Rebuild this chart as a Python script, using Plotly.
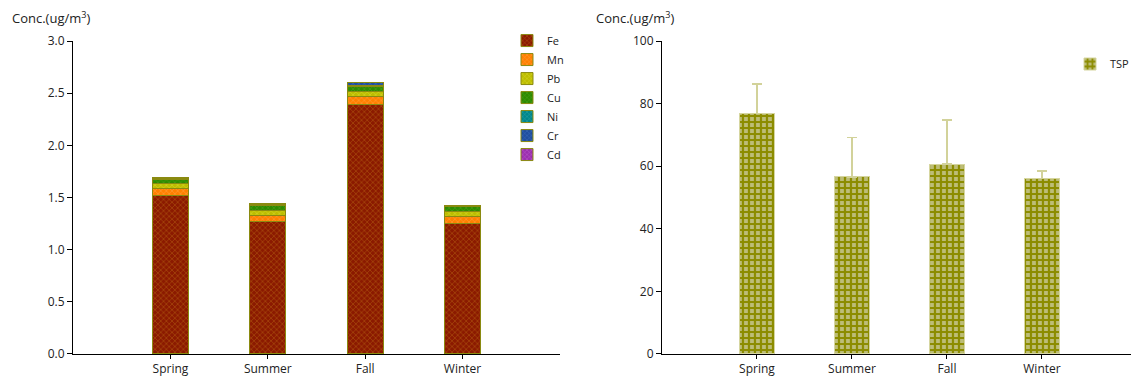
import plotly.graph_objects as go

seasons = ["Spring", "Summer", "Fall", "Winter"]

# Metal concentrations (ug/m3), stacked
metals = ["Fe", "Mn", "Pb", "Cu", "Ni", "Cr", "Cd"]
fe = [1.52, 1.27, 2.39, 1.25]
mn = [0.07, 0.06, 0.075, 0.065]
pb = [0.045, 0.048, 0.048, 0.048]
cu = [0.04, 0.048, 0.055, 0.048]
ni = [0.005, 0.005, 0.01, 0.005]
cr = [0.01, 0.01, 0.025, 0.01]
cd = [0.002, 0.002, 0.003, 0.002]
metal_values = [fe, mn, pb, cu, ni, cr, cd]

metal_bg = ["#8B1A00", "#FF8000", "#BDBD00", "#2E8B00", "#00868B", "#1F4E9F", "#9B2FAE"]
metal_fg = ["#B05A10", "#FFA040", "#D8D830", "#50A020", "#30A8A8", "#4070C0", "#C060D0"]

# TSP
tsp = [76.8, 56.6, 60.7, 56.0]
tsp_err = [9.5, 12.5, 14.0, 2.5]

font = "Open Sans, Noto Sans, sans-serif"

fig = go.Figure()

for name, vals, bg, fg in zip(metals, metal_values, metal_bg, metal_fg):
    fig.add_trace(go.Bar(
        x=seasons, y=vals, name=name, xaxis="x", yaxis="y", legend="legend",
        width=0.37,
        marker=dict(color=bg, line=dict(color="#8A8A10", width=1),
                    pattern=dict(shape="x", size=4, solidity=0.25,
                                 fgcolor=fg, bgcolor=bg, fillmode="replace")),
    ))

fig.add_trace(go.Bar(
    x=seasons, y=tsp, name="TSP", xaxis="x2", yaxis="y2", legend="legend2",
    width=0.36,
    marker=dict(color="#BDBD78", line=dict(color="#D6D6A0", width=1),
                pattern=dict(shape="+", size=6, solidity=0.6,
                             fgcolor="#8C8C00", bgcolor="#BDBD78", fillmode="replace")),
    error_y=dict(type="data", array=tsp_err, arrayminus=[0, 0, 0, 0],
                 symmetric=False, color="#D2D29A", thickness=1.5, width=5),
))

axis_common = dict(showline=True, linecolor="black", linewidth=1, showgrid=False,
                   zeroline=False, ticks="outside", tickcolor="black",
                   tickfont=dict(family=font, size=12, color="#222"))

fig.update_layout(
    width=1131, height=376,
    margin=dict(l=0, r=0, t=0, b=0, autoexpand=False),
    paper_bgcolor="white", plot_bgcolor="white",
    barmode="stack",
    font=dict(family=font, size=12, color="#222"),
    xaxis=dict(domain=[0.0575, 0.488], range=[-1, 4], anchor="y", ticklen=4,
               automargin=False, **axis_common),
    yaxis=dict(domain=[0.0798, 0.9122], range=[0, 3], dtick=0.5, tickformat=".1f",
               anchor="x", ticklen=5, automargin=False, **axis_common),
    xaxis2=dict(domain=[0.5782, 0.9982], range=[-1, 4], anchor="y2", ticklen=4,
                automargin=False, **axis_common),
    yaxis2=dict(domain=[0.0798, 0.9122], range=[0, 100], dtick=20,
                anchor="x2", ticklen=5, automargin=False, **axis_common),
    legend=dict(x=0.4412, y=0.952, xanchor="left", yanchor="top", traceorder="normal",
                font=dict(family=font, size=11, color="#222"), tracegroupgap=0,
                bgcolor="rgba(0,0,0,0)"),
    legend2=dict(x=0.9390, y=0.8896, xanchor="left", yanchor="top",
                 font=dict(family=font, size=11, color="#222"),
                 bgcolor="rgba(0,0,0,0)"),
    annotations=[
        dict(text="Conc.(ug/m<sup>3</sup>)", xref="paper", yref="paper",
             x=0.0018, y=0.976, xanchor="left", yanchor="middle", showarrow=False,
             font=dict(family=font, size=13, color="#222")),
        dict(text="Conc.(ug/m<sup>3</sup>)", xref="paper", yref="paper",
             x=0.518, y=0.976, xanchor="left", yanchor="middle", showarrow=False,
             font=dict(family=font, size=13, color="#222")),
    ],
)

fig.write_html("out.html")
